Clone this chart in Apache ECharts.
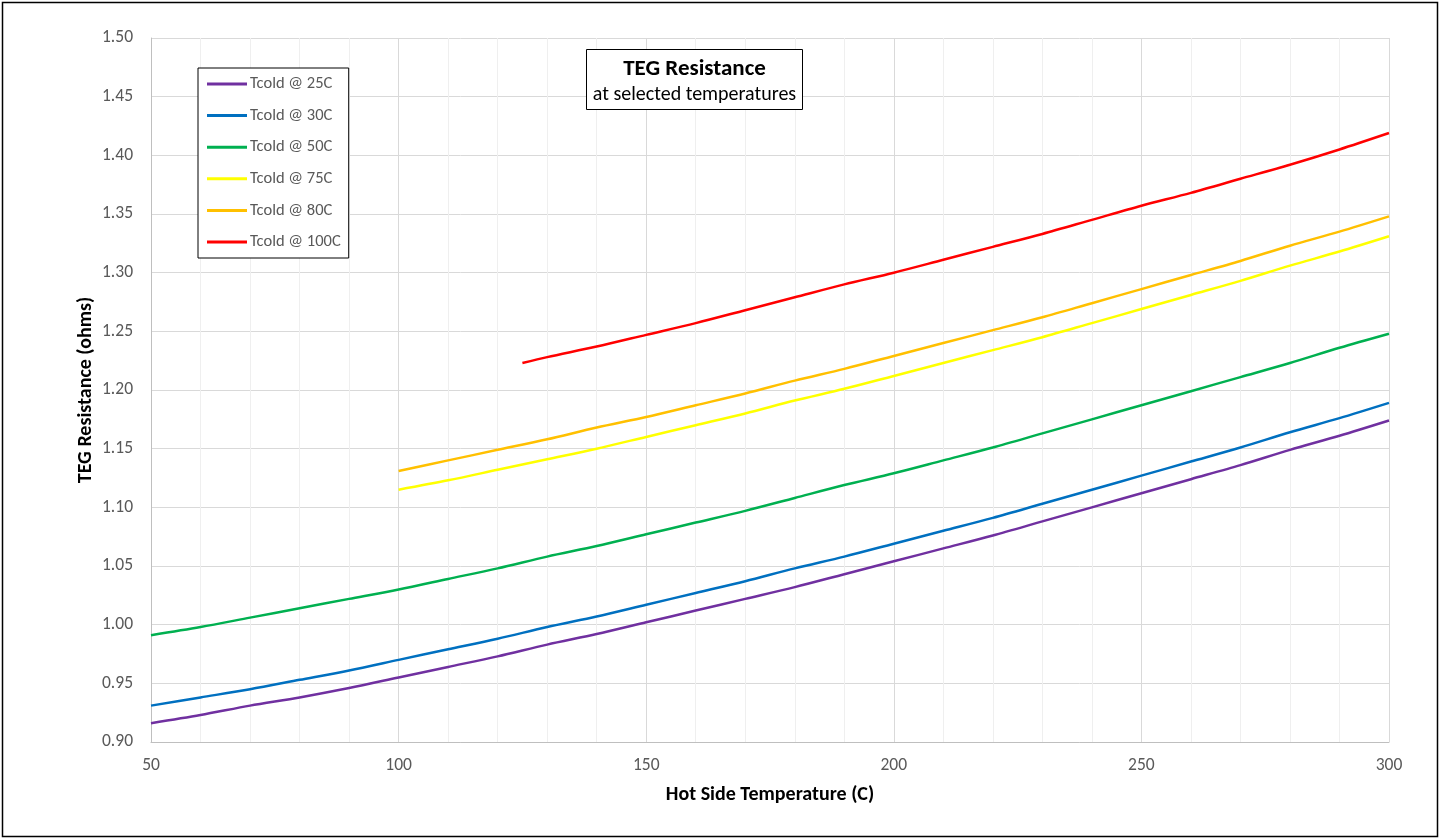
<!DOCTYPE html>
<html>
<head>
<meta charset="utf-8">
<script src="https://cdn.jsdelivr.net/npm/echarts@6/dist/echarts.min.js"></script>
<style>
  html, body { margin: 0; padding: 0; background: #fff; }
  #chart { width: 1445px; height: 840px; }
</style>
</head>
<body>
<div id="chart"></div>
<script>
// Hot side temperatures (C)
const tempsFull = [50,60,70,80,90,100,110,120,130,140,150,160,170,180,190,200,210,220,230,240,250,260,270,280,290,300];
const temps75 = [100,110,120,130,140,150,160,170,180,190,200,210,220,230,240,250,260,270,280,290,300];
const temps100 = [125,130,140,150,160,170,180,190,200,210,220,230,240,250,260,270,280,290,300];

const seriesNames = ['Tcold @ 25C','Tcold @ 30C','Tcold @ 50C','Tcold @ 75C','Tcold @ 80C','Tcold @ 100C'];

const r25 = [0.916,0.923,0.931,0.938,0.946,0.955,0.964,0.973,0.983,0.992,1.002,1.012,1.022,1.032,1.043,1.054,1.065,1.076,1.088,1.100,1.112,1.124,1.136,1.149,1.161,1.174];
const r30 = [0.931,0.938,0.945,0.953,0.961,0.970,0.979,0.988,0.998,1.007,1.017,1.027,1.037,1.048,1.058,1.069,1.080,1.091,1.103,1.115,1.127,1.139,1.151,1.164,1.176,1.189];
const r50 = [0.991,0.998,1.006,1.014,1.022,1.030,1.039,1.048,1.058,1.067,1.077,1.087,1.097,1.108,1.119,1.129,1.140,1.151,1.163,1.175,1.187,1.199,1.211,1.223,1.236,1.248];
const r75 = [1.115,1.123,1.132,1.141,1.150,1.160,1.170,1.180,1.191,1.201,1.212,1.223,1.234,1.245,1.257,1.269,1.281,1.293,1.306,1.318,1.331];
const r80 = [1.131,1.140,1.149,1.158,1.168,1.177,1.187,1.197,1.208,1.218,1.229,1.240,1.251,1.262,1.274,1.286,1.298,1.310,1.323,1.335,1.348];
const r100 = [1.223,1.228,1.237,1.247,1.257,1.268,1.279,1.290,1.300,1.311,1.322,1.333,1.345,1.357,1.368,1.380,1.392,1.405,1.419];

const colors = ['#7030A0','#0070C0','#00B050','#FFFF00','#FFC000','#FF0000'];

const xTitle = 'Hot Side Temperature (C)';
const yTitle = 'TEG Resistance (ohms)';
const chartTitle = 'TEG Resistance';
const chartSubtitle = 'at selected temperatures';

function pairs(xs, ys) { return xs.map((x, i) => [x, ys[i]]); }
const seriesData = [
  pairs(tempsFull, r25), pairs(tempsFull, r30), pairs(tempsFull, r50),
  pairs(temps75, r75), pairs(temps75, r80), pairs(temps100, r100)
];

const FONT = 'Carlito, Lato, "Liberation Sans", sans-serif';

const chart = echarts.init(document.getElementById('chart'), null, { renderer: 'canvas' });
chart.setOption({
  animation: false,
  backgroundColor: '#fff',
  textStyle: { fontFamily: FONT },
  grid: { left: 151, right: 56, top: 38, bottom: 98, containLabel: false },
  xAxis: {
    type: 'value', min: 50, max: 300, interval: 50,
    name: xTitle, nameLocation: 'middle', nameGap: 43,
    nameTextStyle: { fontFamily: FONT, fontSize: 20, fontWeight: 'bold', color: '#000' },
    axisLine: { show: true, lineStyle: { color: '#bfbfbf', width: 1 } },
    axisTick: { show: false },
    axisLabel: { color: '#595959', fontSize: 17.5, margin: 15, fontFamily: FONT },
    splitLine: { show: true, lineStyle: { color: '#d9d9d9', width: 1 } },
    minorTick: { show: true, splitNumber: 5, length: 0, lineStyle: { color: 'transparent' } },
    minorSplitLine: { show: true, lineStyle: { color: '#efefef', width: 1 } }
  },
  yAxis: {
    type: 'value', min: 0.9, max: 1.5, interval: 0.05,
    name: yTitle, nameLocation: 'middle', nameGap: 55, nameRotate: 90, nameMoveOverlap: false,
    nameTextStyle: { fontFamily: FONT, fontSize: 20, fontWeight: 'bold', color: '#000' },
    axisLine: { show: true, lineStyle: { color: '#bfbfbf', width: 1 } },
    axisTick: { show: false },
    axisLabel: { color: '#595959', fontSize: 17.5, margin: 18, fontFamily: FONT,
      formatter: v => v.toFixed(2) },
    splitLine: { show: true, lineStyle: { color: '#d9d9d9', width: 1 } }
  },
  legend: {
    orient: 'vertical', left: 198, top: 68,
    data: seriesNames,
    icon: 'rect', itemWidth: 40, itemHeight: 3, itemGap: 13.6,
    padding: [7, 8, 7, 9],
    backgroundColor: '#fff', borderColor: '#000', borderWidth: 1,
    textStyle: { color: '#595959', fontSize: 16.5, lineHeight: 18, fontFamily: FONT, padding: [0, 0, 0, -2] }
  },
  graphic: [
    { type: 'rect', z: 100, silent: true,
      shape: { x: 2.5, y: 2.5, width: 1435, height: 834 },
      style: { fill: 'none', stroke: '#000', lineWidth: 1.5 } },
    { type: 'rect', z: 100, silent: true,
      shape: { x: 586.5, y: 49.5, width: 216, height: 60 },
      style: { fill: '#fff', stroke: '#000', lineWidth: 1 } },
    { type: 'text', z: 101, silent: true,
      style: { x: 694.5, y: 69, text: chartTitle, align: 'center', verticalAlign: 'middle',
        font: 'bold 23px ' + FONT, fill: '#000' } },
    { type: 'text', z: 101, silent: true,
      style: { x: 694.5, y: 95, text: chartSubtitle, align: 'center', verticalAlign: 'middle',
        font: '20px ' + FONT, fill: '#000' } }
  ],
  series: seriesNames.map((name, i) => ({
    name, type: 'line', data: seriesData[i], showSymbol: false, symbol: 'none',
    smooth: 0.3,
    lineStyle: { color: colors[i], width: 2.5 },
    itemStyle: { color: colors[i] }
  }))
});
</script>
</body>
</html>
